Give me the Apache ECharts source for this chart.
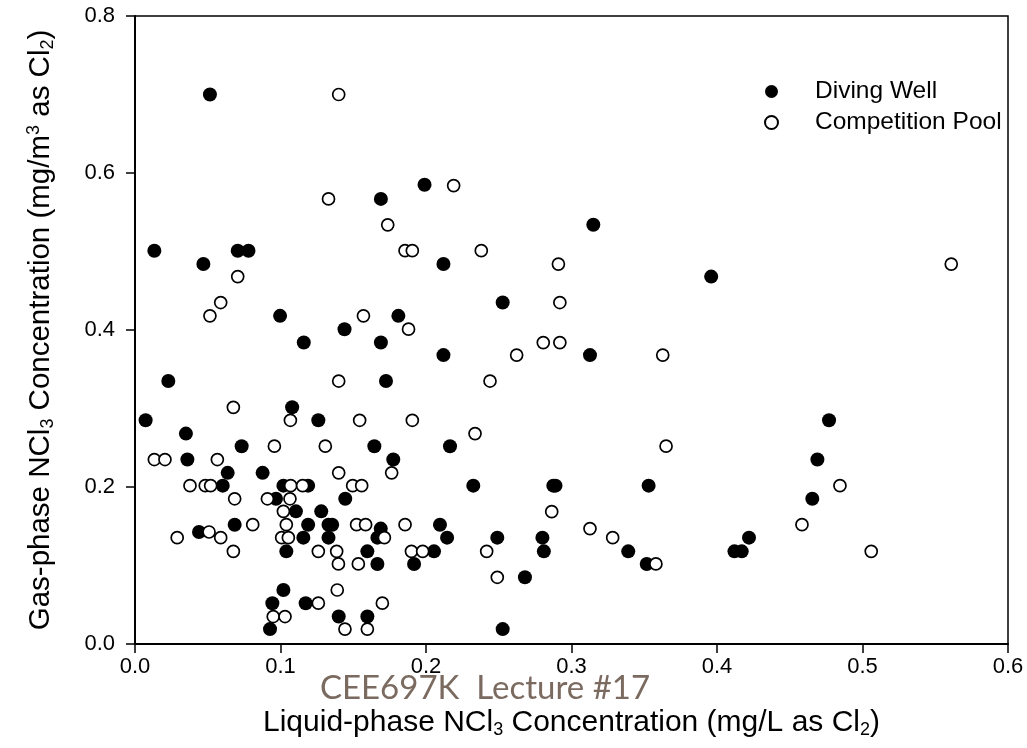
<!DOCTYPE html>
<html>
<head>
<meta charset="utf-8">
<script src="https://cdn.jsdelivr.net/npm/echarts@6/dist/echarts.min.js"></script>
<style>
  html, body { margin: 0; padding: 0; background: #fff; }
  #chart { width: 1027px; height: 748px; }
</style>
</head>
<body>
<div id="chart"></div>
<script>
// Diving well: liquid-phase (mg/L as Cl2) vs gas-phase (mg/m3 as Cl2) NCl3
const divingX = [
  0.0515, 0.199, 0.169, 0.0133, 0.047, 0.0706, 0.078, 0.0997, 0.144, 0.181,
  0.116, 0.169, 0.0229, 0.1725, 0.108, 0.0073, 0.126, 0.035, 0.0733, 0.1645,
  0.036, 0.1775, 0.0637, 0.0877, 0.0603, 0.102, 0.119, 0.0969, 0.1445, 0.1106,
  0.128, 0.0685, 0.119, 0.133, 0.1355, 0.1689, 0.044, 0.1157, 0.133, 0.1666,
  0.104, 0.1597, 0.1666, 0.1918, 0.102, 0.0944, 0.1173, 0.140, 0.1597, 0.0928,
  0.315, 0.212, 0.396, 0.2527, 0.212, 0.3127, 0.2165, 0.2325, 0.2875, 0.289,
  0.353, 0.2096, 0.2145, 0.249, 0.280, 0.2055, 0.281, 0.339, 0.3517, 0.268,
  0.2527, 0.477, 0.469, 0.4655, 0.422, 0.412, 0.417
];
const divingY = [
  0.700, 0.585, 0.567, 0.501, 0.484, 0.501, 0.501, 0.418, 0.401, 0.418,
  0.384, 0.384, 0.335, 0.335, 0.3015, 0.285, 0.285, 0.268, 0.252, 0.252,
  0.235, 0.235, 0.218, 0.218, 0.2017, 0.2017, 0.2017, 0.185, 0.185, 0.169,
  0.169, 0.152, 0.152, 0.152, 0.152, 0.147, 0.1427, 0.1355, 0.1355, 0.1355,
  0.118, 0.118, 0.102, 0.102, 0.0688, 0.052, 0.052, 0.035, 0.035, 0.019,
  0.534, 0.484, 0.468, 0.435, 0.368, 0.368, 0.252, 0.2017, 0.2017, 0.2017,
  0.2017, 0.152, 0.1355, 0.1355, 0.1355, 0.118, 0.118, 0.118, 0.102, 0.085,
  0.019, 0.285, 0.235, 0.185, 0.1355, 0.118, 0.118
];

// Competition pool
const poolX = [
  0.140, 0.133, 0.1737, 0.1856, 0.1906, 0.0706, 0.0589, 0.0515, 0.157, 0.188,
  0.140, 0.0676, 0.1068, 0.1544, 0.1906, 0.0958, 0.1308, 0.0133, 0.0206, 0.0566,
  0.140, 0.1764, 0.0378, 0.0483, 0.052, 0.107, 0.1152, 0.1496, 0.1558, 0.0685,
  0.091, 0.1065, 0.102, 0.0809, 0.104, 0.1523, 0.1585, 0.1856, 0.029, 0.0509,
  0.0589, 0.1008, 0.1054, 0.1714, 0.0676, 0.126, 0.1386, 0.190, 0.1977, 0.1398,
  0.1535, 0.139, 0.126, 0.170, 0.095, 0.1031, 0.1443, 0.1597, 0.219, 0.238,
  0.291, 0.292, 0.2806, 0.292, 0.2623, 0.3627, 0.244, 0.2337, 0.365, 0.2864,
  0.3127, 0.3283, 0.2417, 0.358, 0.249, 0.561, 0.4845, 0.4584, 0.506
];
const poolY = [
  0.700, 0.567, 0.534, 0.501, 0.501, 0.468, 0.435, 0.418, 0.418, 0.401,
  0.335, 0.3015, 0.285, 0.285, 0.285, 0.252, 0.252, 0.235, 0.235, 0.235,
  0.218, 0.218, 0.2017, 0.2017, 0.2017, 0.2017, 0.2017, 0.2017, 0.2017, 0.185,
  0.185, 0.185, 0.169, 0.152, 0.152, 0.152, 0.152, 0.152, 0.1355, 0.1427,
  0.1355, 0.1355, 0.1355, 0.1355, 0.118, 0.118, 0.118, 0.118, 0.118, 0.102,
  0.102, 0.0688, 0.052, 0.052, 0.035, 0.035, 0.019, 0.019, 0.584, 0.501,
  0.484, 0.435, 0.384, 0.384, 0.368, 0.368, 0.335, 0.268, 0.252, 0.1686,
  0.147, 0.1355, 0.118, 0.102, 0.085, 0.484, 0.2017, 0.152, 0.118
];

const xTickLabels = ['0.0', '0.1', '0.2', '0.3', '0.4', '0.5', '0.6'];
const yTickLabels = ['0.0', '0.2', '0.4', '0.6', '0.8'];
const seriesNames = ['Diving Well', 'Competition Pool'];
const footerText = 'CEE697K  Lecture #17';

const FONT = '"Liberation Sans", Arial, sans-serif';
const zip = (xs, ys) => xs.map((x, i) => [x, ys[i]]);

const titleRich = {
  sub: { fontSize: 18, fontFamily: FONT, color: '#000', lineHeight: 18, verticalAlign: 'bottom' },
  sup: { fontSize: 18, fontFamily: FONT, color: '#000', lineHeight: 18, verticalAlign: 'top' }
};

const axisCommon = {
  axisLine: { show: true, onZero: false, lineStyle: { color: '#000', width: 2 } },
  axisTick: { show: true, inside: false, length: 9, lineStyle: { color: '#000', width: 1.5 } },
  splitLine: { show: false },
  nameLocation: 'middle'
};

const chart = echarts.init(document.getElementById('chart'), null, { renderer: 'canvas' });

chart.setOption({
  animation: false,
  backgroundColor: '#fff',
  grid: {
    left: 135, right: 19, top: 16, bottom: 104,
    show: true, borderColor: '#000', borderWidth: 1.5,
    outerBoundsMode: 'none'
  },
  legend: {
    orient: 'vertical',
    left: 759, top: 74,
    itemWidth: 13, itemHeight: 13, itemGap: 6,
    icon: 'circle',
    textStyle: { fontFamily: FONT, fontSize: 24.5, color: '#000', padding: [0, 0, 0, 32] },
    data: seriesNames,
    selectedMode: false
  },
  xAxis: Object.assign({}, axisCommon, {
    type: 'value', min: 0, max: 0.6, interval: 0.1,
    name: 'Liquid-phase NCl{sub|3} Concentration (mg/L as Cl{sub|2})',
    nameGap: 63,
    nameTextStyle: { fontFamily: FONT, fontSize: 30, color: '#000', lineHeight: 32, rich: titleRich },
    axisLabel: {
      fontFamily: FONT, fontSize: 22, color: '#000', margin: 12,
      formatter: v => xTickLabels[Math.round(v * 10)]
    }
  }),
  yAxis: Object.assign({}, axisCommon, {
    type: 'value', min: 0, max: 0.8, interval: 0.2,
    name: 'Gas-phase NCl{sub|3} Concentration (mg/m{sup|3} as Cl{sub|2})',
    nameGap: 78,
    nameTextStyle: { fontFamily: FONT, fontSize: 29.5, color: '#000', lineHeight: 32, rich: titleRich },
    axisLabel: {
      fontFamily: FONT, fontSize: 22, color: '#000', margin: 20,
      formatter: v => yTickLabels[Math.round(v * 5)]
    }
  }),
  series: [
    {
      name: seriesNames[0],
      type: 'scatter',
      symbol: 'circle',
      symbolSize: 14,
      itemStyle: { color: '#000', borderColor: '#000', borderWidth: 0, opacity: 1 },
      emphasis: { disabled: true },
      data: zip(divingX, divingY)
    },
    {
      name: seriesNames[1],
      type: 'scatter',
      symbol: 'circle',
      symbolSize: 12,
      itemStyle: { color: '#fff', borderColor: '#000', borderWidth: 1.7, opacity: 1 },
      emphasis: { disabled: true },
      data: zip(poolX, poolY)
    }
  ],
  graphic: [
    {
      type: 'text',
      x: 485, y: 688,
      style: {
        text: footerText,
        fontFamily: 'Lato, "Noto Sans", sans-serif',
        fontSize: 33,
        fill: '#7b6a5f',
        align: 'center',
        verticalAlign: 'middle'
      }
    }
  ]
});
</script>
</body>
</html>
